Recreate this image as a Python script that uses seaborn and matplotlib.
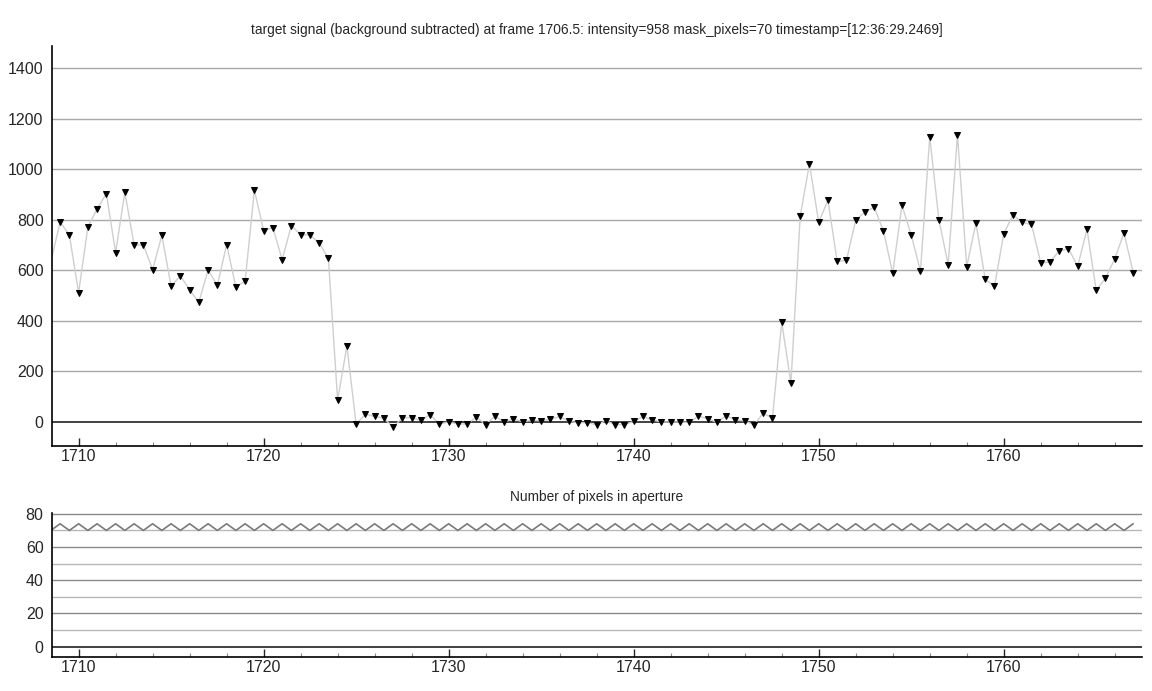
import numpy as np
import pandas as pd
import matplotlib
matplotlib.use("Agg")
import matplotlib.pyplot as plt
from matplotlib.ticker import MultipleLocator
import seaborn as sns

# frame numbers, half-frame steps
frames = np.arange(1708.5, 1767.5, 0.5)

# background subtracted intensity per frame
intensity = [
    635, 790, 740, 511, 770, 843, 903, 670, 909, 700,
    700, 602, 738, 536, 578, 522, 473, 601, 540, 701,
    534, 556, 917, 757, 769, 642, 777, 740, 740, 708,
    648, 85, 300, -10, 30, 21, 14, -22, 16, 16,
    5, 28, -9, -1, -9, -9, 18, -11, 22, -1,
    11, 0, 5, 4, 9, 21, 1, -4, -4, -12,
    4, -12, -11, 1, 21, 7, -1, -1, -1, -3,
    22, 12, -3, 24, 7, 3, -12, 33, 15, 394,
    153, 814, 1021, 790, 877, 635, 639, 798, 831, 849,
    755, 588, 857, 740, 597, 1127, 798, 622, 1137, 614,
    787, 564, 536, 744, 819, 789, 781, 629, 633, 676,
    685, 616, 762, 520, 569, 645, 748, 589,
]

# pixels in aperture per frame
mask_pixels = [
    70, 74, 70, 74, 70, 74, 70, 74, 70, 74,
    70, 74, 70, 74, 70, 74, 70, 74, 70, 74,
    70, 74, 70, 74, 70, 74, 70, 74, 70, 74,
    70, 74, 70, 74, 70, 74, 70, 74, 70, 74,
    70, 74, 70, 74, 70, 74, 70, 74, 70, 74,
    70, 74, 70, 74, 70, 74, 70, 74, 70, 74,
    70, 74, 70, 74, 70, 74, 70, 74, 70, 74,
    70, 74, 70, 74, 70, 74, 70, 74, 70, 74,
    70, 74, 70, 74, 70, 74, 70, 74, 70, 74,
    70, 74, 70, 74, 70, 74, 70, 74, 70, 74,
    70, 74, 70, 74, 70, 74, 70, 74, 70, 74,
    70, 74, 70, 74, 70, 74, 70, 74,
]

title_top = ("target signal (background subtracted) at frame 1706.5: "
             "intensity=958 mask_pixels=70 timestamp=[12:36:29.2469]")
title_bottom = "Number of pixels in aperture"

df = pd.DataFrame({"frame": frames, "intensity": intensity, "pixels": mask_pixels})

sns.set_style("white")
plt.rcParams["font.family"] = ["Liberation Sans", "DejaVu Sans"]

fig = plt.figure(figsize=(11.52, 6.91), dpi=100)
ax1 = fig.add_axes([0.0451, 0.3546, 0.946, 0.5789])
ax2 = fig.add_axes([0.0451, 0.0492, 0.946, 0.2084])

# top panel
for v in range(200, 1600, 200):
    ax1.axhline(v, color="#a8a8a8", lw=1, zorder=0)
ax1.axhline(0, color="#333333", lw=1.3, zorder=0)
# first frame sits just left of the visible range, only its line segment shows
sns.lineplot(data=df, x="frame", y="intensity", ax=ax1, color="#cfcfcf", lw=1,
             marker="v", markersize=5, markerfacecolor="black",
             markeredgecolor="black", markevery=list(range(1, len(df))))
ax1.set_xlim(1708.56, 1767.46)
ax1.set_ylim(-96, 1488)
ax1.set_yticks(range(0, 1600, 200))
ax1.set_title(title_top, fontsize=9.9, pad=8.5)

# bottom panel
for v in range(10, 90, 10):
    c = "#8a8a8a" if v % 20 == 0 else "#b8b8b8"
    ax2.axhline(v, color=c, lw=1, zorder=0)
ax2.axhline(0, color="#333333", lw=1.3, zorder=0)
sns.lineplot(data=df, x="frame", y="pixels", ax=ax2, color="#7a7a7a", lw=1.2)
ax2.set_xlim(1708.56, 1767.46)
ax2.set_ylim(-6.3, 80.5)
ax2.set_yticks(range(0, 100, 20))
ax2.set_title(title_bottom, fontsize=9.9, pad=8.5)

for ax in (ax1, ax2):
    sns.despine(ax=ax)
    ax.spines["left"].set_color("black")
    ax.spines["bottom"].set_color("black")
    ax.spines["left"].set_linewidth(1.2)
    ax.spines["bottom"].set_linewidth(1.2)
    ax.set_xlabel("")
    ax.set_ylabel("")
    ax.xaxis.set_major_locator(MultipleLocator(10))
    ax.xaxis.set_minor_locator(MultipleLocator(2))
    ax.tick_params(axis="x", which="major", direction="in", length=6,
                   width=1, labelsize=11.5, bottom=True, pad=2.5)
    ax.tick_params(axis="x", which="minor", direction="in", length=3,
                   width=0.8, color="#888888", bottom=True)
    ax.tick_params(axis="y", which="major", length=0, labelsize=11.5, pad=6)

fig.savefig("out.png", dpi=100, facecolor="white")
